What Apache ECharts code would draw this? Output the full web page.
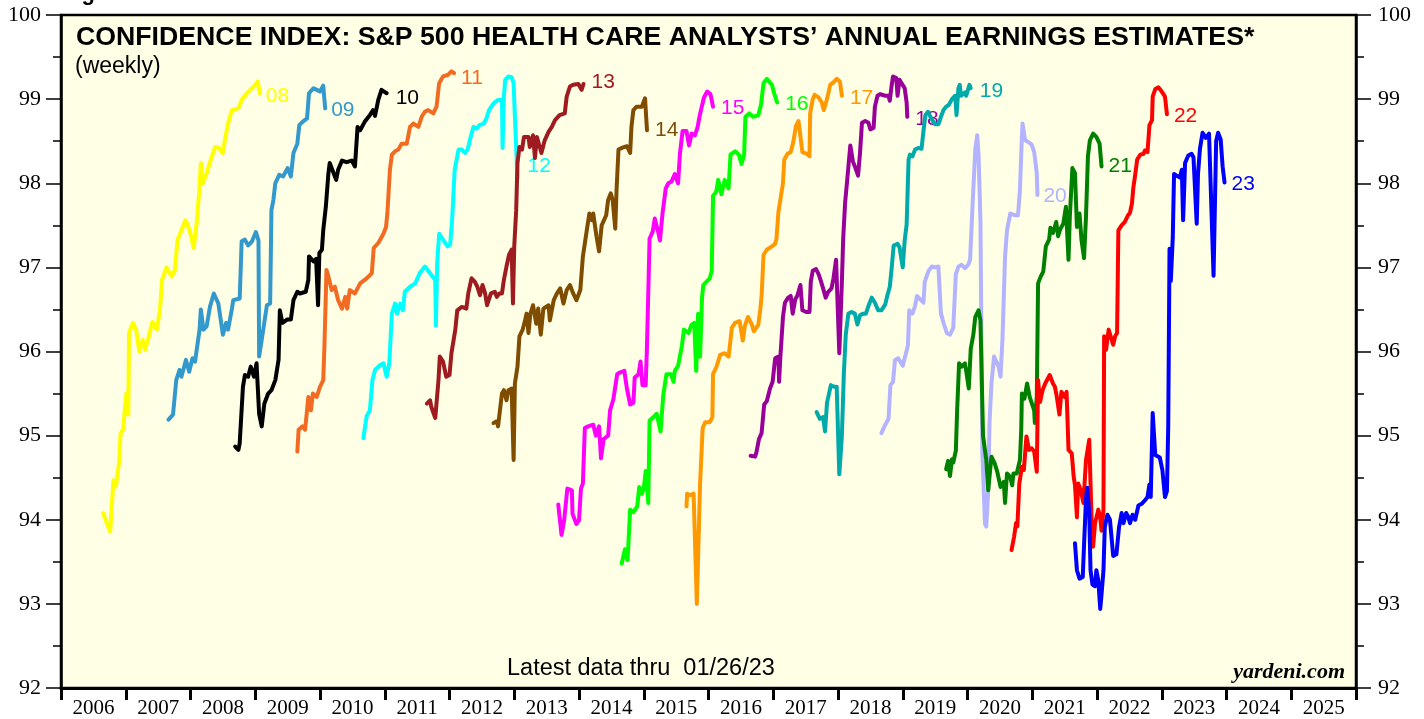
<!DOCTYPE html>
<html>
<head>
<meta charset="utf-8">
<title>Confidence Index: S&P 500 Health Care</title>
<script src="https://cdn.jsdelivr.net/npm/echarts@6/dist/echarts.min.js"></script>
<style>
  html, body { margin: 0; padding: 0; background: #fff; }
  #chart { width: 1424px; height: 719px; }
</style>
</head>
<body>
<div id="chart"></div>
<script>
// weekly confidence index, one array per estimate year: [decimal year, index]
const est08 = [[2006.65,94.08],[2006.76,93.86],[2006.81,94.47],[2006.85,94.40],[2006.90,94.70],[2006.92,95.03],[2006.96,95.07],[2006.99,95.34],[2007.01,95.50],[2007.04,95.25],[2007.05,96.22],[2007.11,96.34],[2007.16,96.26],[2007.21,96.00],[2007.26,96.14],[2007.30,96.02],[2007.35,96.16],[2007.41,96.35],[2007.48,96.26],[2007.53,96.50],[2007.56,96.85],[2007.58,96.89],[2007.63,97.00],[2007.71,96.89],[2007.76,96.97],[2007.80,97.33],[2007.84,97.40],[2007.92,97.56],[2007.95,97.52],[2008.00,97.40],[2008.05,97.23],[2008.10,97.56],[2008.14,97.96],[2008.16,98.24],[2008.19,98.00],[2008.25,98.12],[2008.33,98.32],[2008.38,98.43],[2008.44,98.42],[2008.50,98.36],[2008.53,98.51],[2008.58,98.71],[2008.64,98.87],[2008.74,98.89],[2008.79,98.99],[2008.87,99.07],[2008.95,99.13],[2009.00,99.17],[2009.04,99.21],[2009.07,99.07]];
const est09 = [[2007.66,95.19],[2007.73,95.25],[2007.78,95.66],[2007.83,95.78],[2007.86,95.70],[2007.93,95.90],[2007.98,95.76],[2008.03,95.92],[2008.07,95.88],[2008.14,96.26],[2008.16,96.50],[2008.20,96.26],[2008.25,96.30],[2008.30,96.53],[2008.36,96.69],[2008.43,96.57],[2008.50,96.20],[2008.55,96.34],[2008.58,96.26],[2008.64,96.51],[2008.66,96.61],[2008.76,96.63],[2008.79,97.31],[2008.84,97.33],[2008.89,97.26],[2008.95,97.31],[2009.01,97.42],[2009.05,97.32],[2009.06,95.94],[2009.10,96.14],[2009.18,96.55],[2009.23,96.57],[2009.25,97.68],[2009.28,97.80],[2009.31,98.00],[2009.37,98.10],[2009.43,98.08],[2009.50,98.18],[2009.55,98.08],[2009.59,98.36],[2009.65,98.47],[2009.68,98.69],[2009.73,98.73],[2009.80,98.77],[2009.83,99.07],[2009.90,99.13],[2009.95,99.11],[2010.00,99.09],[2010.05,99.16],[2010.08,98.89]];
const est10 = [[2008.69,94.87],[2008.74,94.83],[2008.76,94.91],[2008.81,95.58],[2008.84,95.72],[2008.89,95.70],[2008.93,95.82],[2008.98,95.70],[2009.02,95.86],[2009.06,95.26],[2009.10,95.11],[2009.14,95.38],[2009.20,95.50],[2009.25,95.54],[2009.31,95.66],[2009.36,95.90],[2009.38,96.49],[2009.42,96.34],[2009.49,96.38],[2009.55,96.38],[2009.59,96.61],[2009.65,96.71],[2009.69,96.69],[2009.78,96.71],[2009.82,96.85],[2009.83,97.13],[2009.90,97.07],[2009.94,97.10],[2009.97,96.55],[2009.99,97.17],[2010.03,97.21],[2010.05,97.44],[2010.09,97.72],[2010.13,98.12],[2010.15,98.24],[2010.19,98.16],[2010.25,98.04],[2010.28,98.16],[2010.34,98.27],[2010.41,98.25],[2010.49,98.27],[2010.54,98.20],[2010.58,98.67],[2010.62,98.63],[2010.69,98.73],[2010.77,98.81],[2010.82,98.87],[2010.85,98.80],[2010.90,98.99],[2010.95,99.11],[2010.99,99.09],[2011.03,99.07]];
const est11 = [[2009.65,94.81],[2009.67,95.07],[2009.73,95.11],[2009.77,95.07],[2009.82,95.46],[2009.86,95.30],[2009.89,95.50],[2009.95,95.46],[2010.00,95.58],[2010.05,95.66],[2010.07,96.10],[2010.10,96.97],[2010.13,96.89],[2010.18,96.73],[2010.23,96.77],[2010.28,96.61],[2010.34,96.51],[2010.39,96.65],[2010.42,96.51],[2010.46,96.73],[2010.54,96.69],[2010.62,96.81],[2010.72,96.87],[2010.80,96.93],[2010.83,97.23],[2010.90,97.29],[2010.98,97.40],[2011.02,97.48],[2011.04,97.64],[2011.08,98.16],[2011.11,98.34],[2011.16,98.38],[2011.21,98.40],[2011.26,98.47],[2011.34,98.47],[2011.39,98.67],[2011.44,98.71],[2011.52,98.67],[2011.57,98.79],[2011.62,98.85],[2011.67,98.87],[2011.75,98.83],[2011.80,98.91],[2011.84,99.19],[2011.90,99.27],[2011.98,99.29],[2012.03,99.33],[2012.06,99.35],[2012.07,99.31]];
const est12 = [[2010.67,94.97],[2010.72,95.23],[2010.77,95.30],[2010.81,95.66],[2010.85,95.78],[2010.93,95.84],[2010.98,95.86],[2011.03,95.70],[2011.07,95.86],[2011.11,96.45],[2011.16,96.57],[2011.19,96.45],[2011.24,96.57],[2011.28,96.49],[2011.31,96.71],[2011.39,96.77],[2011.47,96.81],[2011.54,96.93],[2011.62,97.01],[2011.70,96.93],[2011.78,96.85],[2011.79,96.31],[2011.81,97.05],[2011.84,97.40],[2011.90,97.33],[2011.97,97.25],[2012.01,97.27],[2012.04,97.56],[2012.08,98.16],[2012.14,98.40],[2012.19,98.40],[2012.24,98.36],[2012.28,98.40],[2012.32,98.53],[2012.37,98.67],[2012.42,98.65],[2012.46,98.69],[2012.53,98.71],[2012.57,98.77],[2012.61,98.87],[2012.68,98.95],[2012.75,98.99],[2012.81,98.99],[2012.82,98.42],[2012.84,99.03],[2012.86,99.23],[2012.91,99.27],[2012.96,99.26],[2012.99,99.19],[2013.01,98.79],[2013.05,98.06]];
const est13 = [[2011.65,95.38],[2011.70,95.42],[2011.72,95.34],[2011.78,95.21],[2011.83,95.66],[2011.85,95.94],[2011.90,95.88],[2011.95,95.70],[2012.00,95.72],[2012.03,95.98],[2012.09,96.26],[2012.12,96.49],[2012.19,96.53],[2012.26,96.51],[2012.29,96.69],[2012.34,96.87],[2012.39,96.83],[2012.43,96.77],[2012.47,96.67],[2012.51,96.79],[2012.55,96.69],[2012.58,96.55],[2012.64,96.69],[2012.70,96.71],[2012.73,96.65],[2012.77,96.69],[2012.81,96.69],[2012.84,96.85],[2012.88,97.01],[2012.92,97.15],[2012.96,97.21],[2012.98,96.57],[2013.00,97.25],[2013.03,97.68],[2013.05,98.24],[2013.08,98.43],[2013.12,98.40],[2013.15,98.55],[2013.22,98.55],[2013.24,98.43],[2013.29,98.57],[2013.32,98.30],[2013.35,98.55],[2013.42,98.36],[2013.47,98.51],[2013.53,98.61],[2013.58,98.67],[2013.63,98.75],[2013.70,98.81],[2013.78,98.83],[2013.81,99.03],[2013.86,99.15],[2013.91,99.17],[2013.99,99.18],[2014.04,99.11],[2014.07,99.18]];
const est14 = [[2012.68,95.15],[2012.73,95.17],[2012.75,95.11],[2012.81,95.50],[2012.84,95.54],[2012.88,95.42],[2012.91,95.54],[2012.96,95.56],[2012.99,94.71],[2013.01,95.62],[2013.05,95.82],[2013.08,96.18],[2013.13,96.26],[2013.17,96.38],[2013.19,96.45],[2013.22,96.22],[2013.25,96.45],[2013.29,96.55],[2013.34,96.33],[2013.37,96.51],[2013.41,96.20],[2013.45,96.51],[2013.53,96.55],[2013.55,96.37],[2013.61,96.61],[2013.66,96.69],[2013.71,96.75],[2013.76,96.57],[2013.81,96.73],[2013.86,96.79],[2013.91,96.69],[2013.96,96.61],[2014.02,96.73],[2014.06,97.13],[2014.12,97.44],[2014.16,97.64],[2014.20,97.56],[2014.22,97.64],[2014.27,97.37],[2014.31,97.19],[2014.35,97.50],[2014.42,97.62],[2014.45,97.80],[2014.49,97.88],[2014.52,97.80],[2014.56,97.46],[2014.58,97.92],[2014.61,98.40],[2014.66,98.42],[2014.74,98.44],[2014.79,98.36],[2014.81,98.67],[2014.84,98.87],[2014.89,98.91],[2014.97,98.91],[2015.02,99.01],[2015.05,98.63]];
const est15 = [[2013.68,94.18],[2013.73,93.82],[2013.77,93.99],[2013.82,94.37],[2013.89,94.35],[2013.90,94.07],[2013.96,93.95],[2014.00,93.99],[2014.03,94.37],[2014.06,94.43],[2014.09,95.09],[2014.14,95.11],[2014.22,95.13],[2014.26,95.00],[2014.31,95.11],[2014.34,94.73],[2014.38,94.96],[2014.45,95.00],[2014.48,95.30],[2014.53,95.43],[2014.59,95.73],[2014.63,95.75],[2014.70,95.77],[2014.74,95.56],[2014.79,95.37],[2014.84,95.39],[2014.86,95.69],[2014.92,95.73],[2014.95,95.88],[2014.98,95.60],[2015.03,95.60],[2015.05,96.07],[2015.09,97.34],[2015.14,97.43],[2015.17,97.58],[2015.22,97.43],[2015.25,97.32],[2015.29,97.64],[2015.34,97.94],[2015.38,98.00],[2015.43,98.02],[2015.48,98.11],[2015.53,98.00],[2015.56,98.36],[2015.60,98.62],[2015.66,98.62],[2015.70,98.45],[2015.74,98.59],[2015.79,98.57],[2015.83,98.66],[2015.86,98.79],[2015.89,98.89],[2015.93,99.02],[2015.98,99.09],[2016.03,99.06],[2016.07,98.91]];
const est16 = [[2014.66,93.48],[2014.71,93.65],[2014.75,93.52],[2014.79,94.12],[2014.84,94.09],[2014.90,94.16],[2014.93,94.39],[2014.97,94.31],[2015.00,94.37],[2015.03,94.58],[2015.07,94.20],[2015.09,95.18],[2015.15,95.22],[2015.20,95.26],[2015.26,95.05],[2015.30,95.47],[2015.35,95.73],[2015.42,95.73],[2015.46,95.64],[2015.48,95.77],[2015.53,95.83],[2015.59,96.07],[2015.62,96.26],[2015.69,96.22],[2015.74,96.32],[2015.78,96.34],[2015.81,95.77],[2015.84,96.45],[2015.87,95.94],[2015.90,96.64],[2015.92,96.79],[2015.97,96.83],[2016.02,96.87],[2016.05,96.96],[2016.07,97.85],[2016.12,97.90],[2016.15,98.04],[2016.20,97.87],[2016.25,98.04],[2016.31,97.94],[2016.34,98.34],[2016.41,98.38],[2016.47,98.34],[2016.51,98.23],[2016.55,98.34],[2016.57,98.79],[2016.63,98.83],[2016.69,98.79],[2016.77,98.81],[2016.81,98.93],[2016.85,99.19],[2016.90,99.24],[2016.98,99.17],[2017.01,99.08],[2017.04,99.10],[2017.06,98.96]];
const est17 = [[2015.66,94.16],[2015.67,94.31],[2015.71,94.29],[2015.77,94.31],[2015.82,93.00],[2015.87,94.43],[2015.91,95.09],[2015.95,95.16],[2016.02,95.16],[2016.06,95.22],[2016.07,95.73],[2016.12,95.81],[2016.18,95.96],[2016.25,95.98],[2016.31,95.94],[2016.33,96.07],[2016.36,96.28],[2016.41,96.34],[2016.48,96.36],[2016.53,96.13],[2016.56,96.30],[2016.61,96.41],[2016.67,96.32],[2016.70,96.24],[2016.77,96.32],[2016.80,96.50],[2016.82,96.66],[2016.85,97.15],[2016.90,97.21],[2016.98,97.25],[2017.03,97.28],[2017.05,97.34],[2017.08,97.66],[2017.11,97.68],[2017.15,98.00],[2017.17,98.28],[2017.22,98.35],[2017.27,98.37],[2017.31,98.49],[2017.35,98.68],[2017.39,98.74],[2017.42,98.76],[2017.45,98.37],[2017.52,98.35],[2017.56,98.32],[2017.57,98.83],[2017.61,99.00],[2017.64,99.05],[2017.70,99.02],[2017.75,98.96],[2017.78,98.87],[2017.83,99.00],[2017.88,99.17],[2017.93,99.20],[2017.98,99.24],[2018.03,99.21],[2018.06,99.04]];
const est18 = [[2016.65,94.76],[2016.72,94.75],[2016.74,94.80],[2016.78,94.96],[2016.82,95.03],[2016.86,95.37],[2016.90,95.41],[2016.95,95.56],[2016.99,95.64],[2017.03,95.92],[2017.08,95.94],[2017.09,95.64],[2017.11,95.94],[2017.15,96.41],[2017.18,96.58],[2017.23,96.64],[2017.27,96.66],[2017.30,96.45],[2017.34,96.62],[2017.37,96.66],[2017.42,96.79],[2017.45,96.49],[2017.51,96.47],[2017.56,96.47],[2017.58,96.83],[2017.61,96.96],[2017.66,96.98],[2017.70,96.92],[2017.73,96.85],[2017.77,96.75],[2017.81,96.64],[2017.85,96.71],[2017.90,96.75],[2017.93,96.87],[2017.97,97.09],[2018.02,95.98],[2018.06,96.83],[2018.08,97.34],[2018.11,97.77],[2018.14,98.02],[2018.19,98.45],[2018.23,98.26],[2018.26,98.20],[2018.31,98.09],[2018.34,98.36],[2018.37,98.72],[2018.42,98.74],[2018.47,98.72],[2018.50,98.64],[2018.55,98.66],[2018.57,98.91],[2018.61,99.04],[2018.65,99.06],[2018.73,99.04],[2018.78,99.04],[2018.80,98.98],[2018.83,99.17],[2018.85,99.27],[2018.90,99.25],[2018.92,99.04],[2018.95,99.23],[2018.98,99.23],[2019.03,99.13],[2019.06,98.96],[2019.07,98.79]];
const est19 = [[2017.67,95.28],[2017.72,95.20],[2017.77,95.22],[2017.80,95.05],[2017.83,95.39],[2017.89,95.60],[2017.94,95.58],[2017.98,95.58],[2018.02,94.54],[2018.06,95.00],[2018.09,95.73],[2018.12,96.20],[2018.16,96.45],[2018.21,96.47],[2018.26,96.45],[2018.30,96.32],[2018.34,96.43],[2018.39,96.45],[2018.43,96.45],[2018.47,96.54],[2018.52,96.64],[2018.57,96.58],[2018.62,96.49],[2018.67,96.49],[2018.73,96.56],[2018.76,96.66],[2018.80,96.77],[2018.83,97.00],[2018.86,97.26],[2018.92,97.28],[2018.95,97.24],[2019.00,97.00],[2019.03,97.32],[2019.06,97.51],[2019.09,98.28],[2019.11,98.34],[2019.15,98.32],[2019.19,98.40],[2019.24,98.42],[2019.29,98.41],[2019.32,98.62],[2019.35,98.81],[2019.39,98.85],[2019.44,98.77],[2019.50,98.70],[2019.55,98.70],[2019.59,98.79],[2019.63,98.87],[2019.67,98.91],[2019.71,98.93],[2019.76,99.00],[2019.81,99.04],[2019.83,98.81],[2019.86,99.13],[2019.88,99.17],[2019.90,99.04],[2019.96,99.08],[2019.98,99.04],[2020.03,99.17],[2020.05,99.13]];
const est20 = [[2018.67,95.03],[2018.73,95.13],[2018.78,95.20],[2018.81,95.60],[2018.85,95.64],[2018.88,95.90],[2018.93,95.92],[2019.00,95.83],[2019.05,95.98],[2019.08,96.07],[2019.10,96.49],[2019.15,96.45],[2019.19,96.54],[2019.22,96.66],[2019.27,96.62],[2019.32,96.58],[2019.34,96.83],[2019.40,96.96],[2019.45,97.01],[2019.50,97.00],[2019.55,97.01],[2019.59,96.45],[2019.63,96.34],[2019.68,96.22],[2019.73,96.20],[2019.78,96.28],[2019.82,96.92],[2019.86,97.01],[2019.91,97.03],[2019.96,96.99],[2020.01,97.03],[2020.04,97.09],[2020.08,97.77],[2020.12,98.40],[2020.15,98.57],[2020.17,98.36],[2020.20,97.55],[2020.23,94.79],[2020.27,93.95],[2020.29,93.92],[2020.32,94.35],[2020.34,95.15],[2020.37,95.62],[2020.41,95.94],[2020.48,95.82],[2020.51,95.70],[2020.54,96.14],[2020.58,97.13],[2020.61,97.44],[2020.66,97.64],[2020.73,97.62],[2020.78,97.62],[2020.81,97.92],[2020.84,98.55],[2020.85,98.71],[2020.89,98.51],[2020.94,98.49],[2020.99,98.46],[2021.03,98.37],[2021.07,98.12],[2021.08,97.86]];
const est21 = [[2019.67,94.60],[2019.70,94.70],[2019.73,94.52],[2019.76,94.72],[2019.78,94.68],[2019.82,94.82],[2019.84,95.30],[2019.87,95.86],[2019.91,95.82],[2019.96,95.86],[2019.98,95.77],[2020.02,95.56],[2020.05,96.03],[2020.09,96.20],[2020.12,96.41],[2020.17,96.49],[2020.20,96.37],[2020.24,95.00],[2020.29,94.71],[2020.32,94.35],[2020.37,94.75],[2020.42,94.67],[2020.46,94.57],[2020.51,94.39],[2020.56,94.45],[2020.58,94.20],[2020.61,94.55],[2020.66,94.51],[2020.69,94.41],[2020.71,94.55],[2020.76,94.55],[2020.81,94.71],[2020.83,95.07],[2020.84,95.50],[2020.88,95.44],[2020.92,95.62],[2020.96,95.46],[2020.99,95.44],[2021.03,95.30],[2021.04,95.15],[2021.07,95.46],[2021.09,96.81],[2021.13,96.89],[2021.17,96.95],[2021.21,97.25],[2021.26,97.33],[2021.28,97.47],[2021.32,97.41],[2021.37,97.54],[2021.40,97.37],[2021.43,97.45],[2021.48,97.52],[2021.52,97.72],[2021.56,97.09],[2021.58,97.60],[2021.62,98.18],[2021.66,98.12],[2021.69,97.48],[2021.73,97.64],[2021.76,97.33],[2021.80,97.11],[2021.83,97.60],[2021.86,98.32],[2021.89,98.51],[2021.94,98.59],[2021.99,98.55],[2022.04,98.47],[2022.07,98.20]];
const est22 = [[2020.68,93.64],[2020.72,93.80],[2020.75,93.96],[2020.77,93.92],[2020.80,94.43],[2020.84,94.63],[2020.87,94.59],[2020.91,94.99],[2020.95,94.83],[2020.99,94.85],[2021.03,94.81],[2021.07,94.57],[2021.09,95.66],[2021.12,95.40],[2021.16,95.54],[2021.20,95.62],[2021.23,95.60],[2021.27,95.72],[2021.32,95.62],[2021.35,95.58],[2021.38,95.46],[2021.42,95.25],[2021.45,95.52],[2021.50,95.46],[2021.53,95.52],[2021.56,94.83],[2021.61,94.79],[2021.64,94.51],[2021.66,94.41],[2021.69,94.03],[2021.71,94.43],[2021.75,94.35],[2021.79,94.20],[2021.83,94.71],[2021.88,94.95],[2021.92,93.92],[2021.94,93.68],[2021.97,93.96],[2022.02,94.12],[2022.05,94.03],[2022.07,93.87],[2022.10,94.12],[2022.11,96.18],[2022.14,96.02],[2022.18,96.26],[2022.21,96.26],[2022.25,96.08],[2022.28,96.18],[2022.31,96.22],[2022.33,97.44],[2022.38,97.50],[2022.43,97.54],[2022.48,97.62],[2022.51,97.65],[2022.54,97.76],[2022.56,97.94],[2022.59,98.10],[2022.62,98.28],[2022.67,98.34],[2022.72,98.35],[2022.74,98.39],[2022.78,98.37],[2022.81,98.69],[2022.85,98.75],[2022.86,99.03],[2022.90,99.12],[2022.95,99.14],[2023.00,99.09],[2023.05,99.03],[2023.08,98.82]];
const est23 = [[2021.66,93.72],[2021.69,93.40],[2021.73,93.30],[2021.78,93.32],[2021.80,93.70],[2021.83,94.25],[2021.85,94.38],[2021.88,94.08],[2021.90,93.40],[2021.93,93.23],[2021.97,93.21],[2021.99,93.40],[2022.02,93.28],[2022.05,92.94],[2022.07,93.11],[2022.10,93.40],[2022.12,93.91],[2022.16,94.06],[2022.20,94.00],[2022.23,94.02],[2022.25,93.57],[2022.30,93.59],[2022.34,93.91],[2022.38,94.08],[2022.41,93.96],[2022.45,94.08],[2022.48,94.04],[2022.51,93.96],[2022.55,94.06],[2022.59,94.00],[2022.64,94.17],[2022.69,94.19],[2022.74,94.23],[2022.78,94.27],[2022.81,94.42],[2022.83,94.27],[2022.86,95.27],[2022.90,94.77],[2022.97,94.74],[2023.01,94.59],[2023.05,94.27],[2023.08,94.34],[2023.10,95.10],[2023.12,97.22],[2023.14,96.84],[2023.17,97.35],[2023.19,98.11],[2023.23,98.09],[2023.28,98.07],[2023.31,98.16],[2023.33,97.56],[2023.36,98.24],[2023.41,98.33],[2023.46,98.35],[2023.49,98.31],[2023.54,97.52],[2023.56,98.11],[2023.59,98.41],[2023.63,98.60],[2023.68,98.54],[2023.73,98.59],[2023.76,98.57],[2023.80,96.90],[2023.84,98.50],[2023.87,98.60],[2023.91,98.52],[2023.94,98.20],[2023.97,98.01]];

const seriesNames = ['08','09','10','11','12','13','14','15','16','17','18','19','20','21','22','23'];
const seriesData = [est08, est09, est10, est11, est12, est13, est14, est15, est16, est17, est18, est19, est20, est21, est22, est23];
const yearLabels = ['2006','2007','2008','2009','2010','2011','2012','2013','2014','2015','2016','2017','2018','2019','2020','2021','2022','2023','2024','2025'];

const colors = ['#FFFF00','#3399CC','#000000','#F26B22','#00FFFF','#9E1B20','#7F4C00','#FF00FF','#00FF00','#FF9900','#990099','#00AAAA','#B3B3FF','#008000','#FF0000','#0000FF'];
// where each year tag sits relative to the line end
const labelOffsets = [[1,3],[1,2],[4,5],[2,5],[5,-12],[3,-2],[3,0],[3,2],[3,2],[3,2],[3,2],[4,3],[1,1],[2,0],[2,2],[2,2]];

const serif = '"Liberation Serif", "DejaVu Serif", serif';
const sans = '"Liberation Sans", Arial, sans-serif';

let myChart = echarts.init(document.getElementById('chart'), null, { renderer: 'canvas' });

const series = seriesNames.map(function (name, i) {
  return {
    name: name,
    type: 'line',
    xAxisIndex: 0,
    yAxisIndex: 0,
    data: seriesData[i],
    showSymbol: false,
    symbol: 'none',
    lineStyle: { color: colors[i], width: 4, join: 'round', cap: 'round' },
    itemStyle: { color: colors[i] },
    endLabel: {
      show: true,
      formatter: name,
      color: colors[i],
      fontFamily: sans,
      fontSize: 21,
      distance: 5,
      offset: labelOffsets[i]
    },
    z: 2 + i
  };
});

const option = {
  animation: false,
  backgroundColor: '#ffffff',
  grid: {
    left: 61, right: 68, top: 15, bottom: 31,
    show: true,
    backgroundColor: '#FFFFE6',
    borderColor: '#000',
    borderWidth: 2.5
  },
  xAxis: [
    {
      type: 'value', min: 2006, max: 2026, show: false
    },
    {
      type: 'category',
      data: yearLabels,
      position: 'bottom',
      boundaryGap: true,
      axisLine: { show: true, lineStyle: { color: '#000', width: 3 } },
      axisTick: { show: true, length: 12, lineStyle: { color: '#000', width: 3 } },
      axisLabel: { color: '#000', fontFamily: serif, fontSize: 21, margin: 10 },
      splitLine: { show: false }
    }
  ],
  yAxis: [
    {
      type: 'value', min: 92, max: 100, interval: 1, position: 'left',
      axisLine: { show: true, lineStyle: { color: '#000', width: 2.5 } },
      axisTick: { show: true, length: 15, lineStyle: { color: '#000', width: 1.5 } },
      minorTick: { show: true, splitNumber: 2, length: 8, lineStyle: { color: '#000', width: 1.5 } },
      axisLabel: { color: '#000', fontFamily: serif, fontSize: 22, margin: 20 },
      splitLine: { show: false }
    },
    {
      type: 'value', min: 92, max: 100, interval: 1, position: 'right',
      axisLine: { show: true, lineStyle: { color: '#000', width: 2.5 } },
      axisTick: { show: true, length: 15, lineStyle: { color: '#000', width: 1.5 } },
      minorTick: { show: true, splitNumber: 2, length: 8, lineStyle: { color: '#000', width: 1.5 } },
      axisLabel: { color: '#000', fontFamily: serif, fontSize: 22, margin: 22 },
      splitLine: { show: false }
    }
  ],
  graphic: [
    {
      type: 'text', left: 62, top: -17,
      style: { text: 'Figure 5.', fill: '#000', font: 'bold 22px ' + sans }
    },
    {
      type: 'text', left: 76, top: 24,
      style: { text: 'CONFIDENCE INDEX: S&P 500 HEALTH CARE ANALYSTS\u2019 ANNUAL EARNINGS ESTIMATES*', fill: '#000', font: 'bold 26.7px ' + sans }
    },
    {
      type: 'text', left: 75, top: 55,
      style: { text: '(weekly)', fill: '#000', font: '23px ' + sans }
    },
    {
      type: 'text', left: 507, top: 657,
      style: { text: 'Latest data thru  01/26/23', fill: '#000', font: '23.5px ' + sans }
    },
    {
      type: 'text', right: 79, top: 661,
      style: { text: 'yardeni.com', fill: '#000', font: 'italic bold 22px ' + serif }
    }
  ],
  series: series
};

myChart.setOption(option);
window.addEventListener('resize', function () {
  myChart.resize();
});
</script>
</body>
</html>
